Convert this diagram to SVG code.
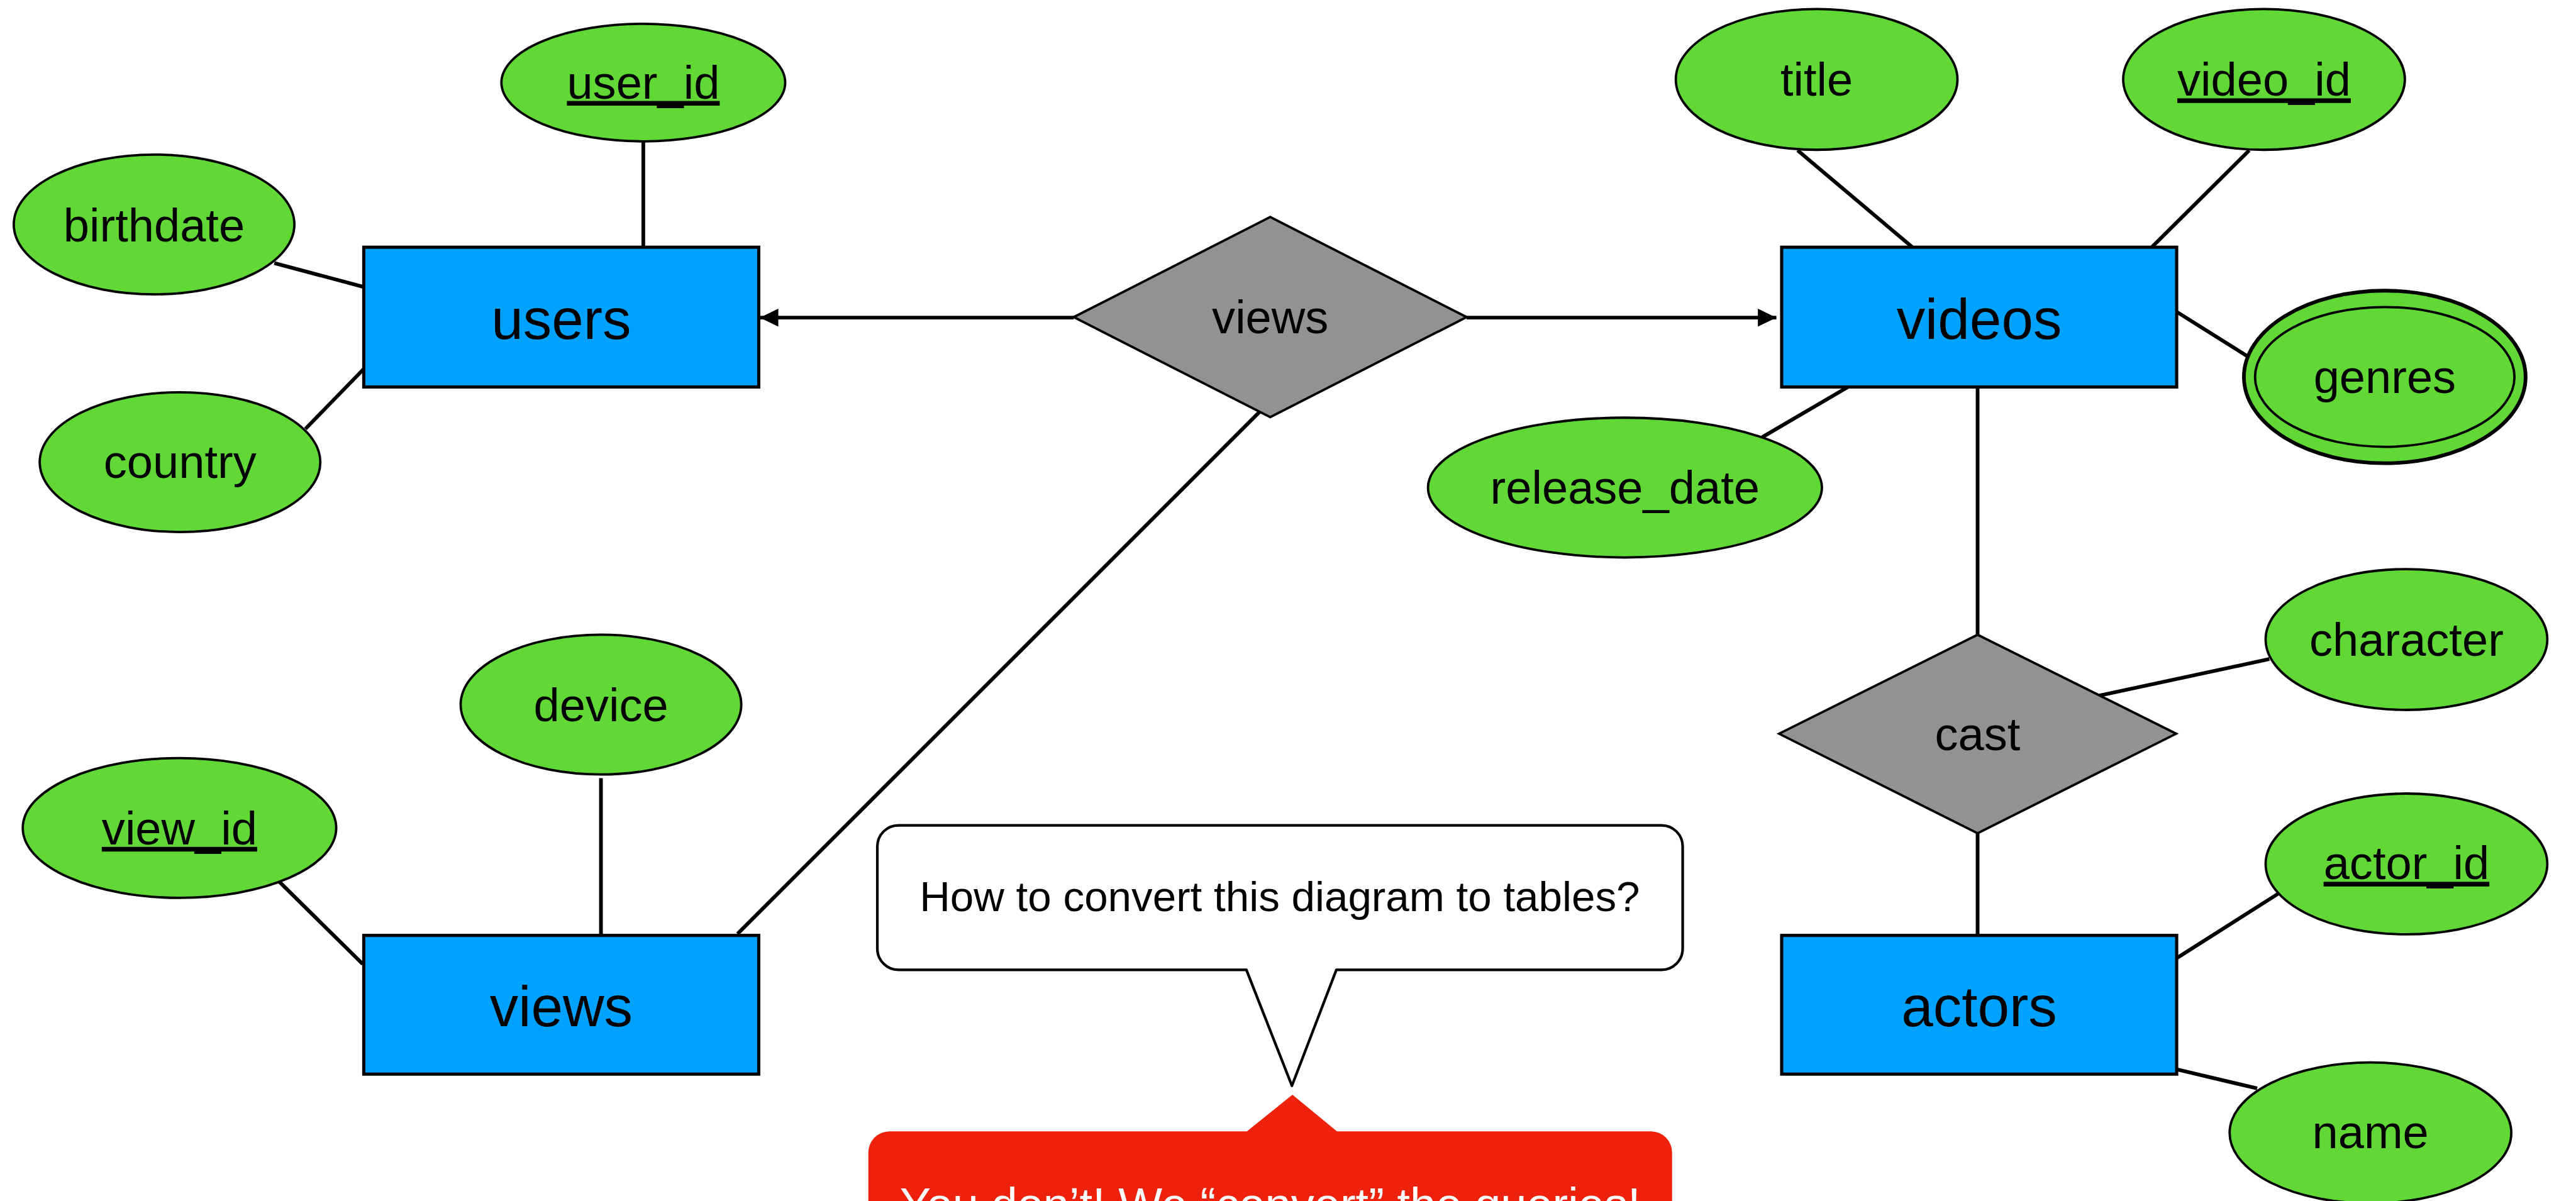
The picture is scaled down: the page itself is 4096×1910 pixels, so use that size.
<svg xmlns="http://www.w3.org/2000/svg" width="4096" height="1910" viewBox="0 0 4096 1910">
  <style>
    text { font-family: "Liberation Sans", Arial, sans-serif; fill: #000; text-anchor: middle; }
    .entity rect { fill: #00A2FF; stroke: #000; stroke-width: 6; }
    .entity text { font-size: 108px; }
    .attr ellipse { fill: #61D836; stroke: #000; stroke-width: 4.5; }
    .attr text { font-size: 88px; }
    .key text { text-decoration: underline; }
    .rel polygon { fill: #929292; stroke: #000; stroke-width: 4.5; }
    .rel text { font-size: 88px; }
    #connectors line { stroke: #000; stroke-width: 7; fill: none; }
    .question path { fill: #fff; stroke: #000; stroke-width: 5; stroke-linejoin: round; }
    .question text { font-size: 80px; }
    .answer path { fill: #EE220C; stroke: none; }
    .answer text { font-size: 88px; fill: #fff; }
  </style>
  <defs>
    <marker id="arrow" markerUnits="userSpaceOnUse" markerWidth="36" markerHeight="34" refX="35" refY="17" orient="auto">
      <path d="M0,0 L35,17 L0,34 Z" fill="#000"/>
    </marker>
  </defs>

  <g transform="scale(0.8419)">
    <!-- connectors -->
    <g id="connectors">
      <line x1="1215" y1="268" x2="1215" y2="467"/>
      <line x1="518" y1="497" x2="687" y2="542"/>
      <line x1="577" y1="810" x2="687" y2="697"/>
      <line x1="2028" y1="600" x2="1435" y2="600" marker-end="url(#arrow)"/>
      <line x1="2770" y1="600" x2="3355" y2="600" marker-end="url(#arrow)"/>
      <line x1="2385" y1="772" x2="1393" y2="1764"/>
      <line x1="3395" y1="284" x2="3612" y2="467"/>
      <line x1="4248" y1="284" x2="4064" y2="467"/>
      <line x1="3328" y1="826" x2="3490" y2="731"/>
      <line x1="4111" y1="589" x2="4243" y2="672"/>
      <line x1="3735" y1="731" x2="3735" y2="1199"/>
      <line x1="3735" y1="1574" x2="3735" y2="1767"/>
      <line x1="3964" y1="1314" x2="4286" y2="1245"/>
      <line x1="4111" y1="1810" x2="4303" y2="1688"/>
      <line x1="4111" y1="2020" x2="4263" y2="2056"/>
      <line x1="528" y1="1666" x2="685" y2="1821"/>
      <line x1="1135" y1="1470" x2="1135" y2="1767"/>
    </g>

    <!-- entities -->
    <g id="users" class="entity">
      <rect x="687" y="467" width="746" height="264"/>
      <text x="1060" y="640">users</text>
    </g>
    <g id="videos" class="entity">
      <rect x="3365" y="467" width="746" height="264"/>
      <text x="3738" y="640">videos</text>
    </g>
    <g id="views-entity" class="entity">
      <rect x="687" y="1767" width="746" height="262"/>
      <text x="1060" y="1938">views</text>
    </g>
    <g id="actors" class="entity">
      <rect x="3365" y="1767" width="746" height="262"/>
      <text x="3738" y="1938">actors</text>
    </g>

    <!-- relationships -->
    <g id="views-rel" class="rel">
      <polygon points="2028,599 2399,410 2770,599 2399,788"/>
      <text x="2399" y="629">views</text>
    </g>
    <g id="cast" class="rel">
      <polygon points="3360,1386 3735,1199 4110,1386 3735,1574"/>
      <text x="3735" y="1417">cast</text>
    </g>

    <!-- attributes -->
    <g id="user_id" class="attr key">
      <ellipse cx="1215" cy="156" rx="268" ry="111"/>
      <text x="1215" y="186">user_id</text>
    </g>
    <g id="birthdate" class="attr">
      <ellipse cx="291" cy="424" rx="265" ry="132"/>
      <text x="291" y="456">birthdate</text>
    </g>
    <g id="country" class="attr">
      <ellipse cx="340" cy="873" rx="265" ry="132"/>
      <text x="340" y="903">country</text>
    </g>
    <g id="device" class="attr">
      <ellipse cx="1135" cy="1331" rx="265" ry="132"/>
      <text x="1135" y="1362">device</text>
    </g>
    <g id="view_id" class="attr key">
      <ellipse cx="339" cy="1564" rx="296" ry="132"/>
      <text x="339" y="1595">view_id</text>
    </g>
    <g id="title" class="attr">
      <ellipse cx="3431" cy="150" rx="266" ry="133"/>
      <text x="3431" y="181">title</text>
    </g>
    <g id="video_id" class="attr key">
      <ellipse cx="4276" cy="150" rx="266" ry="133"/>
      <text x="4276" y="181">video_id</text>
    </g>
    <g id="release_date" class="attr">
      <ellipse cx="3069" cy="921" rx="372" ry="132"/>
      <text x="3069" y="952">release_date</text>
    </g>
    <g id="genres" class="attr">
      <ellipse cx="4504" cy="712" rx="266" ry="163" style="stroke-width:7"/>
      <ellipse cx="4504" cy="712" rx="245" ry="132"/>
      <text x="4504" y="742">genres</text>
    </g>
    <g id="character" class="attr">
      <ellipse cx="4545" cy="1208" rx="266" ry="133"/>
      <text x="4545" y="1239">character</text>
    </g>
    <g id="actor_id" class="attr key">
      <ellipse cx="4545" cy="1632" rx="266" ry="133"/>
      <text x="4545" y="1661">actor_id</text>
    </g>
    <g id="name" class="attr">
      <ellipse cx="4477" cy="2140" rx="266" ry="133"/>
      <text x="4477" y="2169">name</text>
    </g>

    <!-- callouts -->
    <g id="question" class="question">
      <path d="M1697,1559 H3138 A40,40 0 0 1 3178,1599 V1792 A40,40 0 0 1 3138,1832 H2524 L2440,2051 L2354,1832 H1697 A40,40 0 0 1 1657,1792 V1599 A40,40 0 0 1 1697,1559 Z"/>
      <text x="2417" y="1721">How to convert this diagram to tables?</text>
    </g>
    <g id="answer" class="answer">
      <path d="M1640,2420 V2177 A40,40 0 0 1 1680,2137 H2355 L2441,2068 L2525,2137 H3118 A40,40 0 0 1 3158,2177 V2420 Z"/>
      <text x="2399" y="2306">You don’t! We “convert” the queries!</text>
    </g>
  </g>
</svg>
